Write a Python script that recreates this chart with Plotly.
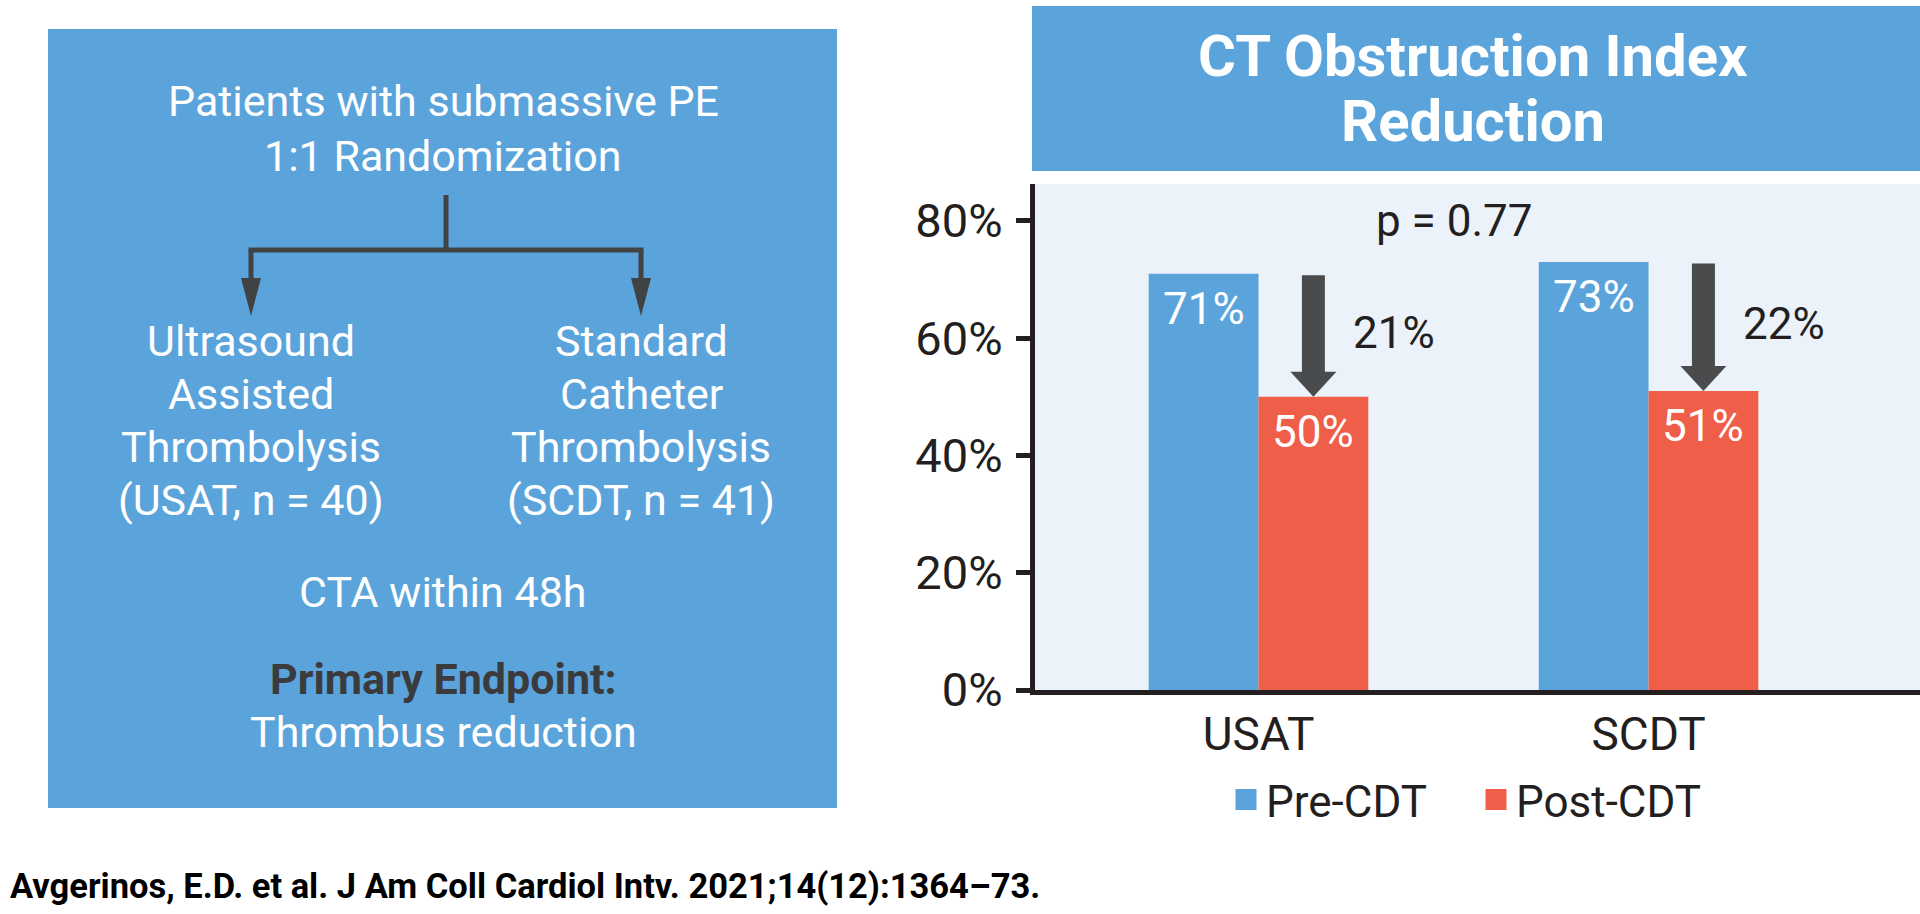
import plotly.graph_objects as go

# ---------------- data ----------------
categories = ["USAT", "SCDT"]
series_names = ["Pre-CDT", "Post-CDT"]
pre_cdt = [71, 73]
post_cdt = [50, 51]
y_ticks = [0, 20, 40, 60, 80]
p_value_text = "p = 0.77"
chart_title = ["CT Obstruction Index", "Reduction"]
flow_top = ["Patients with submassive PE", "1:1 Randomization"]
flow_left = ["Ultrasound", "Assisted", "Thrombolysis", "(USAT, n = 40)"]
flow_right = ["Standard", "Catheter", "Thrombolysis", "(SCDT, n = 41)"]
flow_cta = "CTA within 48h"
endpoint_label = "Primary Endpoint:"
endpoint_value = "Thrombus reduction"
citation = "Avgerinos, E.D. et al. J Am Coll Cardiol Intv. 2021;14(12):1364–73."

# ---------------- style ----------------
W, H = 1920, 914
FONT = "Roboto"
BLUE = "#5BA4DB"
RED = "#EF5E48"
DARK = "#231F20"
ARROW = "#4A4B4D"
FLOW = "#414244"
PANEL = "#EBF2FA"
HEAD_W, HEAD_L, SHAFT_W = 23, 25, 23


def px(x):
    return x / W


def py(y):
    return 1 - y / H


bargap = 0.437
bar_w = (1 - bargap) / 2
post_off = bar_w / 2
x_idx = list(range(len(categories)))
colors = [BLUE, RED]
offsets = [-post_off, post_off]

annotations = []
shapes = []

fig = go.Figure()
for name, vals, col, off in zip(series_names, [pre_cdt, post_cdt], colors, offsets):
    fig.add_trace(go.Bar(
        x=x_idx, y=vals, name=name, marker=dict(color=col, line=dict(width=0)),
        showlegend=False, hoverinfo="skip",
    ))
    # value labels inside the top of each bar
    for i, v in enumerate(vals):
        annotations.append(dict(
            x=i + off, y=v, xref="x", yref="y", yshift=-7, xanchor="center", yanchor="top",
            showarrow=False, text=f"{v}%", font=dict(family=FONT, size=44, color="white"),
        ))
# legend entries (larger square swatches)
for name, col in zip(series_names, colors):
    fig.add_trace(go.Scatter(
        x=[None], y=[None], mode="markers", name=name, showlegend=True,
        marker=dict(symbol="square", size=16, color=col, line=dict(width=5, color=col)),
        hoverinfo="skip",
    ))

# reduction arrows + labels (from data)
for i, (a, b) in enumerate(zip(pre_cdt, post_cdt)):
    xc = i + post_off
    annotations.append(dict(
        x=xc, y=b, ax=xc, ay=a, xref="x", yref="y", axref="x", ayref="y",
        text="", showarrow=True, arrowhead=0, arrowwidth=SHAFT_W,
        arrowcolor=ARROW, standoff=HEAD_L - 2, startstandoff=0,
    ))
    shapes.append(dict(
        type="path", xref="x", yref="y", xsizemode="pixel", ysizemode="pixel",
        xanchor=xc, yanchor=b,
        path=f"M{-HEAD_W},{HEAD_L} L{HEAD_W},{HEAD_L} L0,0 Z",
        fillcolor=ARROW, line=dict(width=0),
    ))
    annotations.append(dict(
        x=xc, y=(a + b) / 2, xref="x", yref="y", xshift=38, yshift=2,
        xanchor="left", yanchor="middle", showarrow=False,
        text=f"{a - b}%", font=dict(family=FONT, size=44, color=DARK),
    ))

# p-value
annotations.append(dict(
    x=0.5, y=80, xref="x", yref="y", showarrow=False, xanchor="center", yanchor="middle",
    text=p_value_text, font=dict(family=FONT, size=44, color=DARK),
))

# title box
shapes.append(dict(type="rect", xref="paper", yref="paper", x0=px(1032), x1=px(1920),
                   y0=py(171), y1=py(6), fillcolor=BLUE, line=dict(width=0), layer="below"))
for txt, yc in zip(chart_title, [56, 121]):
    annotations.append(dict(x=px(1473), y=py(yc), xref="paper", yref="paper", showarrow=False,
                            xanchor="center", yanchor="middle", text=f"<b>{txt}</b>",
                            font=dict(family=FONT, size=58, color="white")))

# left flowchart box
shapes.append(dict(type="rect", xref="paper", yref="paper", x0=px(48), x1=px(837),
                   y0=py(808), y1=py(29), fillcolor=BLUE, line=dict(width=0), layer="below"))


def add_text(txt, xc, yc, size=43, color="white", bold=False):
    t = f"<b>{txt}</b>" if bold else txt
    annotations.append(dict(x=px(xc), y=py(yc), xref="paper", yref="paper", showarrow=False,
                            xanchor="center", yanchor="middle", text=t,
                            font=dict(family=FONT, size=size, color=color)))


for txt, yc in zip(flow_top, [101, 156]):
    add_text(txt, 443, yc)
for txt, yc in zip(flow_left, [341, 394, 447, 500]):
    add_text(txt, 251, yc)
for txt, yc in zip(flow_right, [341, 394, 447, 500]):
    add_text(txt, 641, yc)
add_text(flow_cta, 443, 592)
add_text(endpoint_label, 443, 679, color="#3B3B3D", bold=True)
add_text(endpoint_value, 443, 732)


# flow lines
def line(x0, y0, x1, y1):
    shapes.append(dict(type="line", xref="paper", yref="paper", x0=px(x0), y0=py(y0),
                       x1=px(x1), y1=py(y1), line=dict(color=FLOW, width=5)))


line(446, 195, 446, 250)
line(248.5, 250, 643.5, 250)
for xc in (251, 641):
    line(xc, 250, xc, 282)
    shapes.append(dict(type="path", xref="paper", yref="paper",
                       path=f"M{px(xc - 10)},{py(278)} L{px(xc + 10)},{py(278)} L{px(xc)},{py(316)} Z",
                       fillcolor=FLOW, line=dict(width=0)))

# citation
annotations.append(dict(x=px(8), y=py(886), xref="paper", yref="paper", showarrow=False,
                        xanchor="left", yanchor="middle", text=f"<b>{citation}</b>",
                        font=dict(family=FONT, size=34.5, color="black")))

fig.update_layout(
    width=W, height=H, autosize=False,
    margin=dict(l=0, r=0, t=0, b=0, pad=0, autoexpand=False),
    paper_bgcolor="white", plot_bgcolor=PANEL,
    barmode="group", bargap=bargap, bargroupgap=0,
    font=dict(family=FONT, color=DARK),
    showlegend=True,
    legend=dict(orientation="h", x=px(1226), xanchor="left", y=py(800), yanchor="middle",
                font=dict(family=FONT, size=44, color=DARK), bgcolor="rgba(0,0,0,0)",
                itemwidth=30, traceorder="normal", entrywidth=205, itemclick=False,
                itemdoubleclick=False),
    xaxis=dict(domain=[px(1035), 1], range=[-0.573, 1.696], tickvals=x_idx, ticktext=categories,
               showline=True, linewidth=5, linecolor=DARK, ticks="", showgrid=False,
               zeroline=False, tickfont=dict(family=FONT, size=46, color=DARK),
               ticklabelstandoff=0, fixedrange=True, automargin=False),
    yaxis=dict(domain=[py(690), py(184)], range=[0, 86.3], tickvals=y_ticks,
               ticktext=[f"{v}%" for v in y_ticks],
               ticks="outside", ticklen=14, tickwidth=5, tickcolor=DARK,
               showline=True, linewidth=5, linecolor=DARK, showgrid=False, zeroline=False,
               tickfont=dict(family=FONT, size=47, color=DARK), ticklabelstandoff=4,
               fixedrange=True, automargin=False),
    annotations=annotations, shapes=shapes,
)

fig.write_html(
    "out.html",
    config={"displayModeBar": False},
    post_script="document.body.style.margin='0';document.body.style.overflow='hidden';",
)
